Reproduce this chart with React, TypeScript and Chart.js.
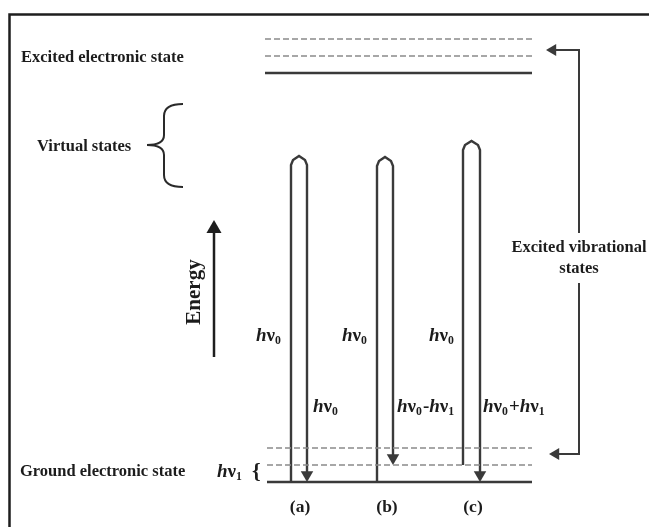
import { useEffect, useRef } from 'react';
import { Chart, registerables } from 'chart.js';

Chart.register(...registerables);

// ---- diagram data (x: horizontal position, y: energy-axis position, top = 0) ----
const FRAME_X = [9.5, 9.5, 649];
const FRAME_Y = [527, 14.5, 14.5];

const EXCITED_LEVELS = [39, 56, 73]; // two vibrational (dashed) + electronic (solid)
const EXCITED_SPAN = [265, 532];
const GROUND_LEVELS = [448, 465, 482];
const GROUND_SPAN = [267, 532];

const TRANSITIONS = ['(a)', '(b)', '(c)'];
const TRANSITION_LABEL_X = [300, 387, 473];
const TRANSITION_LABEL_Y = 507;
const UP_X = [291, 377, 463];
const DOWN_X = [307, 393, 480];
const UP_FROM = [482, 482, 465];
const VIRTUAL_APEX = [156, 157, 141];
const DOWN_TO = [482, 465, 482];

const INCIDENT_LABELS = [['h*', 'ν', '_0'], ['h*', 'ν', '_0'], ['h*', 'ν', '_0']];
const INCIDENT_X = [256, 342, 429];
const INCIDENT_Y = 336;
const SCATTERED_LABELS = [
  ['h*', 'ν', '_0'],
  ['h*', 'ν', '_0', '-', 'h*', 'ν', '_1'],
  ['h*', 'ν', '_0', '+', 'h*', 'ν', '_1'],
];
const SCATTERED_X = [313, 397, 483];
const SCATTERED_Y = 407;

const STATE_LABELS = ['Excited electronic state', 'Virtual states', 'Ground electronic state'];
const STATE_LABEL_X = [21, 37, 20];
const STATE_LABEL_Y = [58, 147, 472];

const ENERGY_ARROW_X = 214;
const ENERGY_ARROW_Y = [357, 220];

const VIB_BRACKET_X = 579;
const VIB_BRACKET_TIP_X = [546, 549];
const VIB_BRACKET_Y = [50, 454];
const VIB_TEXT = ['Excited vibrational', 'states'];
const VIB_TEXT_Y = [248, 269];
const VIB_GAP = [233, 283];

const VIRTUAL_BRACE = { top: 104, bottom: 187, tipX: 147, spineX: 164, endX: 183, mid: 145 };

const SERIF = '"Liberation Serif", "Times New Roman", serif';
const LINE = '#3a3a3a';
const DASH = '#8a8a8a';
const TEXT = '#1c1c1c';
const HNU_SIZE = 19;

function seg(xs: number[], ys: number[], color: string, width: number, dash: number[] = []) {
  return {
    data: xs.map((x, i) => ({ x, y: ys[i] })),
    showLine: true,
    borderColor: color,
    borderWidth: width,
    borderDash: dash,
    pointRadius: 0,
    pointHoverRadius: 0,
    tension: 0,
    fill: false,
    clip: false as any,
  };
}

function head(x: number, tip: number, dir: 'up' | 'down' | 'left', r: number, color = LINE) {
  const pt =
    dir === 'down' ? { x, y: tip - r } : dir === 'up' ? { x, y: tip + r } : { x: x + r, y: tip };
  return {
    data: [pt],
    showLine: false,
    pointStyle: 'triangle',
    rotation: dir === 'down' ? 180 : dir === 'up' ? 0 : 270,
    pointRadius: r,
    pointHoverRadius: r,
    backgroundColor: color,
    borderColor: color,
    borderWidth: 0,
    clip: false as any,
  };
}

function buildDatasets() {
  const ds: any[] = [];
  ds.push(seg(FRAME_X, FRAME_Y, '#1e1e1e', 2.5));
  EXCITED_LEVELS.forEach((y, i) => {
    const solid = i === EXCITED_LEVELS.length - 1;
    ds.push(seg(EXCITED_SPAN, [y, y], solid ? LINE : DASH, solid ? 2.5 : 1.3, solid ? [] : [6, 3]));
  });
  GROUND_LEVELS.forEach((y, i) => {
    const solid = i === GROUND_LEVELS.length - 1;
    ds.push(seg(GROUND_SPAN, [y, y], solid ? LINE : DASH, solid ? 2.5 : 1.3, solid ? [] : [6, 3]));
  });
  TRANSITIONS.forEach((_, i) => {
    const l = UP_X[i];
    const r = DOWN_X[i];
    const m = (l + r) / 2;
    const apex = VIRTUAL_APEX[i];
    const sh = apex + 9;
    ds.push(
      seg(
        [l, l, l + 2, m, r - 2, r, r],
        [UP_FROM[i], sh, apex + 4, apex, apex + 4, sh, DOWN_TO[i] - 8],
        LINE,
        2.4
      )
    );
    ds.push(head(r, DOWN_TO[i], 'down', 7.2));
  });
  // energy axis arrow
  ds.push(seg([ENERGY_ARROW_X, ENERGY_ARROW_X], [ENERGY_ARROW_Y[0], ENERGY_ARROW_Y[1] + 8], '#1e1e1e', 2.5));
  ds.push(head(ENERGY_ARROW_X, ENERGY_ARROW_Y[1], 'up', 8.7, '#1e1e1e'));
  // excited vibrational states bracket
  ds.push(
    seg([VIB_BRACKET_TIP_X[0] + 6, VIB_BRACKET_X, VIB_BRACKET_X], [VIB_BRACKET_Y[0], VIB_BRACKET_Y[0], VIB_GAP[0]], LINE, 2)
  );
  ds.push(
    seg([VIB_BRACKET_X, VIB_BRACKET_X, VIB_BRACKET_TIP_X[1] + 6], [VIB_GAP[1], VIB_BRACKET_Y[1], VIB_BRACKET_Y[1]], LINE, 2)
  );
  ds.push(head(VIB_BRACKET_TIP_X[0], VIB_BRACKET_Y[0], 'left', 6.8));
  ds.push(head(VIB_BRACKET_TIP_X[1], VIB_BRACKET_Y[1], 'left', 6.8));
  return ds;
}

function drawRich(ctx: CanvasRenderingContext2D, parts: string[], x: number, y: number, size: number) {
  let cx = x;
  for (const p of parts) {
    const sub = p.startsWith('_');
    const it = p.endsWith('*') && p.length > 1;
    const t = sub ? p.slice(1) : it ? p.slice(0, -1) : p;
    const fs = sub ? size * 0.62 : size;
    ctx.font = `${it ? 'italic ' : ''}bold ${fs}px ${SERIF}`;
    ctx.fillText(t, cx, y + (sub ? size * 0.28 : 0));
    cx += ctx.measureText(t).width + (sub ? 1 : 0);
  }
}

const labelPlugin = {
  id: 'diagramLabels',
  afterDatasetsDraw(chart: any) {
    const { ctx } = chart;
    const sx = chart.scales.x;
    const sy = chart.scales.y;
    const X = (v: number) => sx.getPixelForValue(v);
    const Y = (v: number) => sy.getPixelForValue(v);
    ctx.save();
    ctx.fillStyle = TEXT;
    ctx.textBaseline = 'middle';
    ctx.textAlign = 'left';
    ctx.font = `bold 16.5px ${SERIF}`;
    STATE_LABELS.forEach((t, i) => ctx.fillText(t, X(STATE_LABEL_X[i]), Y(STATE_LABEL_Y[i])));

    ctx.textAlign = 'center';
    VIB_TEXT.forEach((t, i) => ctx.fillText(t, X(VIB_BRACKET_X), Y(VIB_TEXT_Y[i])));

    ctx.font = `bold 17.5px ${SERIF}`;
    TRANSITIONS.forEach((t, i) => ctx.fillText(t, X(TRANSITION_LABEL_X[i]), Y(TRANSITION_LABEL_Y)));

    // Energy label (rotated)
    ctx.save();
    ctx.translate(X(195), Y(292));
    ctx.rotate(-Math.PI / 2);
    ctx.font = `bold 21px ${SERIF}`;
    ctx.fillText('Energy', 0, 0);
    ctx.restore();

    ctx.textAlign = 'left';
    INCIDENT_LABELS.forEach((p, i) => drawRich(ctx, p, X(INCIDENT_X[i]), Y(INCIDENT_Y), HNU_SIZE));
    SCATTERED_LABELS.forEach((p, i) => drawRich(ctx, p, X(SCATTERED_X[i]), Y(SCATTERED_Y), HNU_SIZE));
    drawRich(ctx, ['h*', 'ν', '_1'], X(217), Y(472), HNU_SIZE);
    ctx.font = `bold 22px ${SERIF}`;
    ctx.fillText('{', X(252), Y(472));

    // virtual states brace
    const b = VIRTUAL_BRACE;
    ctx.strokeStyle = '#2a2a2a';
    ctx.lineWidth = 2;
    ctx.beginPath();
    ctx.moveTo(X(b.endX), Y(b.top));
    ctx.quadraticCurveTo(X(b.spineX), Y(b.top), X(b.spineX), Y(b.top + 12));
    ctx.lineTo(X(b.spineX), Y(b.mid - 10));
    ctx.quadraticCurveTo(X(b.spineX), Y(b.mid), X(b.tipX), Y(b.mid));
    ctx.quadraticCurveTo(X(b.spineX), Y(b.mid), X(b.spineX), Y(b.mid + 10));
    ctx.lineTo(X(b.spineX), Y(b.bottom - 12));
    ctx.quadraticCurveTo(X(b.spineX), Y(b.bottom), X(b.endX), Y(b.bottom));
    ctx.stroke();
    ctx.restore();
  },
};

export default function App() {
  const ref = useRef<HTMLCanvasElement>(null);
  useEffect(() => {
    const chart = new Chart(ref.current!, {
      type: 'scatter',
      data: { datasets: buildDatasets() },
      options: {
        responsive: false,
        animation: false,
        events: [],
        layout: { padding: 0, autoPadding: false },
        plugins: { legend: { display: false }, tooltip: { enabled: false } },
        scales: {
          x: { type: 'linear', min: 0, max: 649, display: false },
          y: { type: 'linear', min: 0, max: 527, reverse: true, display: false },
        },
      },
      plugins: [labelPlugin],
    } as any);
    return () => chart.destroy();
  }, []);
  return (
    <canvas
      ref={ref}
      width={649}
      height={527}
      style={{ position: 'absolute', left: 0, top: 0, width: 649, height: 527, background: '#fff' }}
    />
  );
}
